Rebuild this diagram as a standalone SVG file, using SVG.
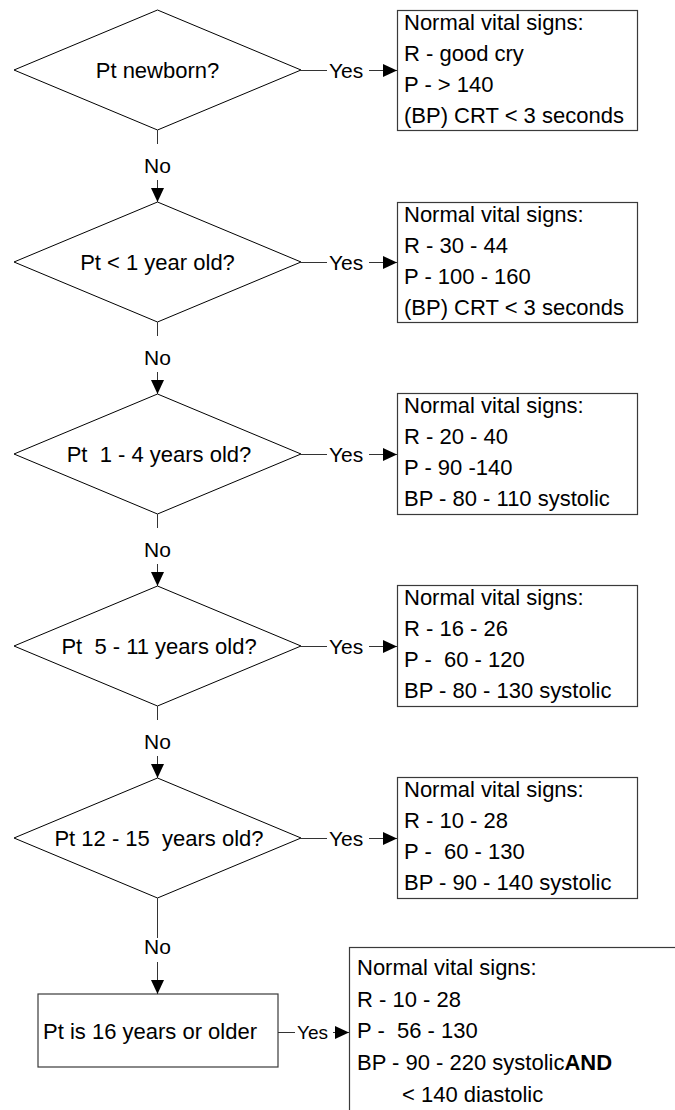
<svg xmlns="http://www.w3.org/2000/svg" width="675" height="1110" viewBox="0 0 675 1110">
<style>
.sh{fill:#fff;stroke:#000;stroke-width:1}
.bx{fill:#fff;stroke:#3a3a3a;stroke-width:1.2}
.t{font-family:"Liberation Sans",Arial,sans-serif;font-size:22px;fill:#000;white-space:pre}
.dt{text-anchor:middle}
.lb{font-family:"Liberation Sans",Arial,sans-serif;font-size:21px;fill:#000}
.ln{stroke:#333;stroke-width:1;fill:none}
</style>
<defs>
<marker id="ah" markerUnits="userSpaceOnUse" markerWidth="14" markerHeight="13" refX="14" refY="6.5" orient="auto"><path d="M0,0 L14,6.5 L0,13 z" fill="#000"/></marker>
</defs>
<rect width="675" height="1110" fill="#fff"/>
<g id="d1"><polygon class="sh" points="14,70 157.5,10 301,70 157.5,130"/><text class="t dt" x="157.5" y="78">Pt newborn?</text></g>
<g id="d2"><polygon class="sh" points="14,262 157.5,202 301,262 157.5,322"/><text class="t dt" x="157.5" y="270">Pt &lt; 1 year old?</text></g>
<g id="d3"><polygon class="sh" points="14,454 157.5,394 301,454 157.5,514"/><text class="t dt" x="159" y="462" xml:space="preserve">Pt  1 - 4 years old?</text></g>
<g id="d4"><polygon class="sh" points="14,646 157.5,586 301,646 157.5,706"/><text class="t dt" x="159" y="654" xml:space="preserve">Pt  5 - 11 years old?</text></g>
<g id="d5"><polygon class="sh" points="14,838 157.5,778 301,838 157.5,898"/><text class="t dt" x="159" y="846" xml:space="preserve">Pt 12 - 15  years old?</text></g>
<g id="r6"><rect class="bx" x="38" y="994" width="240" height="73"/><text class="t" x="43" y="1039">Pt is 16 years or older</text></g>
<g id="b1"><rect class="bx" x="397.5" y="10.5" width="240" height="120"/><text class="t" x="404"><tspan x="404" y="30">Normal vital signs:</tspan><tspan x="404" y="61">R - good cry</tspan><tspan x="404" y="92">P - &gt; 140</tspan><tspan x="404" y="123">(BP) CRT &lt; 3 seconds</tspan></text></g>
<g id="b2"><rect class="bx" x="397.5" y="202.5" width="240" height="120"/><text class="t" x="404"><tspan x="404" y="222">Normal vital signs:</tspan><tspan x="404" y="253">R - 30 - 44</tspan><tspan x="404" y="284">P - 100 - 160</tspan><tspan x="404" y="315">(BP) CRT &lt; 3 seconds</tspan></text></g>
<g id="b3"><rect class="bx" x="397.5" y="393.5" width="240" height="121"/><text class="t" x="404"><tspan x="404" y="413">Normal vital signs:</tspan><tspan x="404" y="444">R - 20 - 40</tspan><tspan x="404" y="475">P - 90 -140</tspan><tspan x="404" y="506">BP - 80 - 110 systolic</tspan></text></g>
<g id="b4"><rect class="bx" x="397.5" y="585.5" width="240" height="121"/><text class="t" x="404" xml:space="preserve"><tspan x="404" y="605">Normal vital signs:</tspan><tspan x="404" y="636">R - 16 - 26</tspan><tspan x="404" y="667">P -  60 - 120</tspan><tspan x="404" y="698">BP - 80 - 130 systolic</tspan></text></g>
<g id="b5"><rect class="bx" x="397.5" y="777.5" width="240" height="121"/><text class="t" x="404" xml:space="preserve"><tspan x="404" y="797">Normal vital signs:</tspan><tspan x="404" y="828">R - 10 - 28</tspan><tspan x="404" y="859">P -  60 - 130</tspan><tspan x="404" y="890">BP - 90 - 140 systolic</tspan></text></g>
<g id="b6"><rect class="bx" x="349.5" y="947.5" width="340" height="200"/><text class="t" x="357" xml:space="preserve"><tspan x="357" y="975">Normal vital signs:</tspan><tspan x="357" y="1007">R - 10 - 28</tspan><tspan x="357" y="1038">P -  56 - 130</tspan><tspan x="357" y="1070">BP - 90 - 220 systolic<tspan font-weight="bold">AND</tspan></tspan><tspan x="402" y="1102">&lt; 140 diastolic</tspan></text></g>
<g id="connectors">
<line class="ln" x1="301" y1="70.5" x2="327" y2="70.5"/><text class="lb" x="329" y="78">Yes</text><line class="ln" x1="369" y1="70.5" x2="397" y2="70.5" marker-end="url(#ah)"/>
<line class="ln" x1="301" y1="262.5" x2="327" y2="262.5"/><text class="lb" x="329" y="270">Yes</text><line class="ln" x1="369" y1="262.5" x2="397" y2="262.5" marker-end="url(#ah)"/>
<line class="ln" x1="301" y1="454.5" x2="327" y2="454.5"/><text class="lb" x="329" y="462">Yes</text><line class="ln" x1="369" y1="454.5" x2="397" y2="454.5" marker-end="url(#ah)"/>
<line class="ln" x1="301" y1="646.5" x2="327" y2="646.5"/><text class="lb" x="329" y="654">Yes</text><line class="ln" x1="369" y1="646.5" x2="397" y2="646.5" marker-end="url(#ah)"/>
<line class="ln" x1="301" y1="838.5" x2="327" y2="838.5"/><text class="lb" x="329" y="846">Yes</text><line class="ln" x1="369" y1="838.5" x2="397" y2="838.5" marker-end="url(#ah)"/>
<line class="ln" x1="278" y1="1032.5" x2="295" y2="1032.5"/><text class="lb" x="297" y="1039" style="font-size:19px">Yes</text><line class="ln" x1="333" y1="1032.5" x2="349" y2="1032.5" marker-end="url(#ah)"/>
<line class="ln" x1="157.5" y1="130" x2="157.5" y2="144"/><text class="lb" x="157.5" y="173" text-anchor="middle">No</text><line class="ln" x1="157.5" y1="180" x2="157.5" y2="202" marker-end="url(#ah)"/>
<line class="ln" x1="157.5" y1="322" x2="157.5" y2="336"/><text class="lb" x="157.5" y="365" text-anchor="middle">No</text><line class="ln" x1="157.5" y1="372" x2="157.5" y2="394" marker-end="url(#ah)"/>
<line class="ln" x1="157.5" y1="514" x2="157.5" y2="528"/><text class="lb" x="157.5" y="557" text-anchor="middle">No</text><line class="ln" x1="157.5" y1="564" x2="157.5" y2="586" marker-end="url(#ah)"/>
<line class="ln" x1="157.5" y1="706" x2="157.5" y2="720"/><text class="lb" x="157.5" y="749" text-anchor="middle">No</text><line class="ln" x1="157.5" y1="756" x2="157.5" y2="778" marker-end="url(#ah)"/>
<line class="ln" x1="157.5" y1="898" x2="157.5" y2="938"/><text class="lb" x="157.5" y="954" text-anchor="middle">No</text><line class="ln" x1="157.5" y1="962" x2="157.5" y2="994" marker-end="url(#ah)"/>
</g>
</svg>
